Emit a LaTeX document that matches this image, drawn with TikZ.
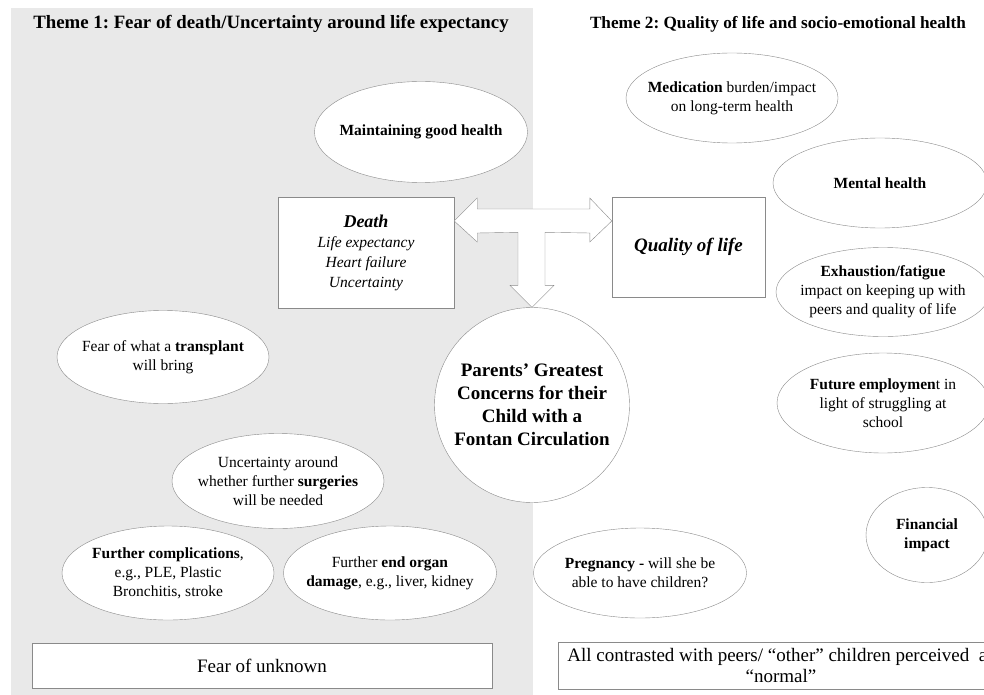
\documentclass[tikz,border=0pt]{standalone}
\usepackage{fontspec}
\setmainfont{Liberation Serif}
\usetikzlibrary{calc, shapes.geometric}
\definecolor{fgrey}{HTML}{E9E9E9}
\definecolor{fline}{HTML}{8A8A8A}
\frenchspacing
\begin{document}
\begin{tikzpicture}[x=1pt, y=-1pt, font=\fontsize{15.5}{19}\selectfont,
      ell/.style={ellipse, draw=fline, fill=white, inner sep=-14pt, minimum width=212pt, minimum height=92pt, align=center},
      blk/.style={draw=fline, fill=white, inner sep=0pt, align=center},
      ttl/.style={font=\fontsize{17.5}{21}\selectfont\bfseries},
      tarrow/.style={draw=fline, fill=white, line join=miter}]
      \clip (0,0) rectangle (984,695);
      \fill[fgrey] (11,8) rectangle (533,695);
      \node[ttl, font=\fontsize{18.8}{22}\selectfont\bfseries] (t1) at (271,24) {Theme 1: Fear of death/Uncertainty around life expectancy};
      \node[ttl, font=\fontsize{17.2}{21}\selectfont\bfseries] (t2) at (778,24) {Theme 2: Quality of life and socio-emotional health};
      \node[blk, minimum width=176pt, minimum height=111pt, font=\fontsize{15.5}{20}\selectfont\itshape] (death) at (366,252.5) {{\fontsize{18}{22}\selectfont\bfseries Death}\\Life expectancy\\Heart failure\\Uncertainty};
      \node[blk, minimum width=153pt, minimum height=100pt, font=\fontsize{19}{23}\selectfont\bfseries\itshape] (quality) at (688.5,247) {Quality of life};
      \node[circle, draw=fline, fill=white, minimum size=195pt, inner sep=0pt, align=center, font=\fontsize{19}{23}\selectfont\bfseries] (hub) at (532,405) {Parents’ Greatest\\Concerns for their\\Child with a\\Fontan Circulation};
      \node[ell, minimum width=213pt, minimum height=101pt] (health) at (421,132) {\textbf{Maintaining good health}};
      \node[ell, minimum height=93pt] (transplant) at (163,357) {Fear of what a \textbf{transplant}\\will bring};
      \node[ell, minimum height=95pt] (surgery) at (278,481) {Uncertainty around\\whether further \textbf{surgeries}\\will be needed};
      \node[ell, minimum height=94pt] (complic) at (168,573) {\textbf{Further complications},\\e.g., PLE, Plastic\\Bronchitis, stroke};
      \node[ell, minimum width=213pt, minimum height=94pt] (organ) at (390,573) {Further \textbf{end organ}\\\textbf{damage}, e.g., liver, kidney};
      \node[ell, minimum height=90pt] (medic) at (732,98) {\textbf{Medication} burden/impact\\on long-term health};
      \node[ell, minimum width=214pt, minimum height=90pt] (mental) at (880,183) {\textbf{Mental health}};
      \node[ell, minimum width=214pt, minimum height=89pt] (fatigue) at (883,292) {\textbf{Exhaustion/fatigue}\\impact on keeping up with\\peers and quality of life};
      \node[ell, minimum height=100pt] (employ) at (883,403) {\textbf{Future employmen}t in\\light of struggling at\\school};
      \node[ell, minimum width=122pt, minimum height=95pt] (money) at (927,535) {\textbf{Financial}\\\textbf{impact}};
      \node[ell, minimum width=213pt, minimum height=90pt] (pregnancy) at (640,573) {\textbf{Pregnancy -} will she be\\able to have children?};
      \node[blk, minimum width=460pt, minimum height=45pt, font=\fontsize{19}{22}\selectfont] (unknown) at (262,665.5) {Fear of unknown};
      \node[blk, minimum width=446pt, minimum height=47pt, font=\fontsize{19}{21}\selectfont] (peers) at (781,665.5) {All contrasted with peers/ “other” children perceived\ \ as\\“normal”};
      \coordinate (lt) at (death.east |- 0,221);
      \coordinate (rt) at (quality.west |- 0,221);
      \draw[tarrow] (lt) -- ++(23,-23) -- ++(0,11) -- ($(rt)+(-22,-12)$) -- ++(0,-11) -- (rt) -- ++(-22,21) -- ++(0,-9) -- ($(hub.north)+(13,-75)$) -- ++(0,53) -- ++(9,0) -- (hub.north) -- ++(-22,-22) -- ++(8,0) -- ($(hub.north)+(-14,-75)$) -- ($(lt)+(23,12)$) -- ++(0,9) -- cycle;
    \end{tikzpicture}
\end{document}
